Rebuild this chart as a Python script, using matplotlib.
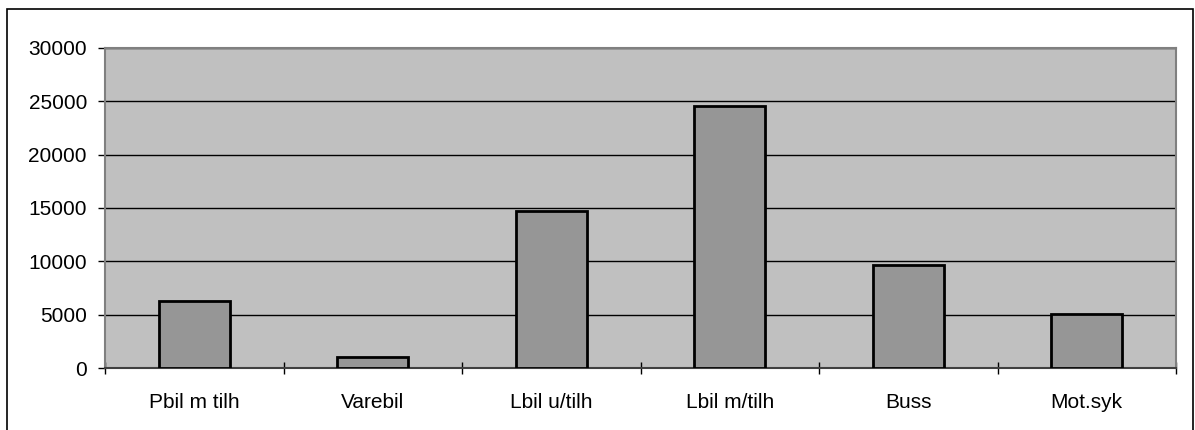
import numpy as np
import matplotlib.pyplot as plt
from matplotlib.patches import Rectangle

plt.rcParams['font.family'] = ['Liberation Sans', 'DejaVu Sans']

categories = ['Pbil m tilh', 'Varebil', 'Lbil u/tilh', 'Lbil m/tilh', 'Buss', 'Mot.syk']
values = [6300, 1050, 14700, 24550, 9650, 5100]
yticks = [0, 5000, 10000, 15000, 20000, 25000, 30000]

fig = plt.figure(figsize=(11.95, 4.30), dpi=100)
fig.patch.set_facecolor('white')

# outer frame of the chart (bottom edge is cut off in the original)
fig.patches.append(Rectangle((7 / 1195, -0.05), 1186 / 1195, 0.05 + 421 / 430,
                             transform=fig.transFigure, fill=False,
                             edgecolor='black', linewidth=1.2))

ax = fig.add_axes([105 / 1195, 62 / 430, 1071 / 1195, 320 / 430])
ax.set_facecolor('#C0C0C0')

x = np.arange(len(categories))
ax.bar(x, values, width=0.40, color='#969696', edgecolor='black', linewidth=2, zorder=3)

ax.set_xlim(-0.5, len(categories) - 0.5)
ax.set_ylim(0, 30000)
ax.set_yticks(yticks)
ax.set_yticklabels([str(v) for v in yticks])
ax.yaxis.grid(True, color='black', linewidth=1)
ax.set_axisbelow(True)

ax.set_xticks(x)
ax.set_xticklabels(categories)
ax.set_xticks(np.arange(-0.5, len(categories)), minor=True)
ax.tick_params(axis='x', which='major', length=0, pad=18, labelsize=15)
ax.tick_params(axis='x', which='minor', direction='inout', length=9, width=1, color='black')
ax.tick_params(axis='y', which='major', direction='out', length=5, width=1, pad=8, labelsize=15)

for side in ['top', 'right', 'left']:
    ax.spines[side].set_color('#808080')
    ax.spines[side].set_linewidth(1.5)
ax.spines['bottom'].set_color('#404040')
ax.spines['bottom'].set_linewidth(1.5)

fig.savefig('out.png', dpi=100)
